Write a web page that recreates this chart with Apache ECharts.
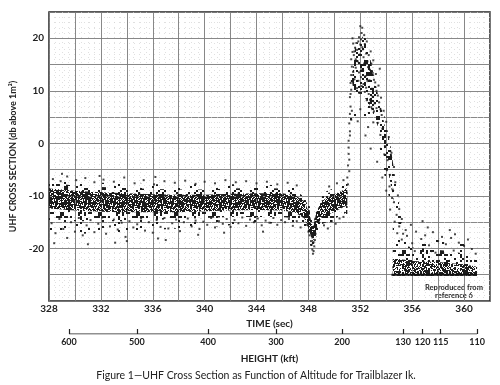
<!DOCTYPE html>
<html><head><meta charset="utf-8">
<script src="https://cdn.jsdelivr.net/npm/echarts@6/dist/echarts.min.js"></script>
<style>html,body{margin:0;padding:0;background:#fff}#c{width:500px;height:385px}</style>
</head><body><div id="c"></div>
<script>
// ---- tick labels ----
const heightLabels = [600, 500, 400, 300, 200, 130, 120, 115, 110];
const heightTimes  = [329.54, 334.78, 340.26, 345.5, 350.6, 355.3, 356.8, 358.2, 361.0];

// ---- baseline noise band (time, dB) ----
const baseT    = [328, 329, 330, 332, 334, 336, 338, 340, 342, 344, 346, 347, 347.7, 348.1, 348.35, 348.6, 349.0, 349.5, 350, 350.5, 351.0];
const outerHi  = [-6.8, -7.0, -7.2, -7.5, -7.6, -7.8, -7.8, -7.8, -7.8, -7.8, -8.0, -8.3, -9.5, -12, -15, -12.5, -9.5, -9.0, -8.5, -7.8, -7.0];
const outerLo  = [-17.5, -17.5, -17.3, -17, -16.8, -16.5, -16.2, -16.0, -15.6, -15.3, -15.2, -15.5, -16.5, -19, -21.5, -19, -16.5, -16, -15.5, -15, -14];
const midHi    = [-7.6, -7.8, -8.0, -8.3, -8.5, -8.7, -8.8, -8.8, -8.6, -8.5, -8.6, -9.0, -10.2, -12.8, -15.5, -12.8, -10.0, -9.5, -9.0, -8.3, -7.6];
const midLo    = [-14.8, -14.8, -14.8, -14.8, -14.8, -14.6, -14.4, -14.2, -14.0, -14.0, -14.0, -14.3, -15.5, -18, -20.5, -17.8, -15.4, -14.9, -14.3, -13.8, -13.0];
const coreHi   = [-8.6, -8.8, -9.0, -9.3, -9.5, -9.7, -9.8, -9.8, -9.6, -9.5, -9.5, -9.9, -11, -13.6, -16.2, -13.2, -10.9, -10.3, -9.7, -9.1, -8.5];
const coreLo   = [-12.4, -12.6, -12.8, -13.0, -13.1, -13.1, -13.1, -12.9, -12.8, -12.7, -12.8, -13.2, -14.3, -16.8, -19, -16.3, -14.1, -13.6, -13.0, -12.4, -11.8];

// ---- peak outline (closed) ----
const peakT = [351.15, 351.3, 351.5, 351.8, 352.05, 352.35, 352.7, 353.0, 353.3, 353.7, 354.1, 354.4, 354.7, 354.95, 355.2, 355.5, 354.9, 354.5, 354.1, 353.7, 353.2, 352.7, 352.2, 351.7, 351.35];
const peakV = [3, 14, 18.5, 20.5, 21.5, 20.5, 18, 15, 11.5, 7, 2.5, -2, -7, -12, -16, -19, -18, -13.5, -9, -4, 0.5, 3.5, 5, 5, 3];
const peakCoreT = [351.35, 351.6, 351.9, 352.1, 352.4, 352.7, 352.95, 353.3, 353.7, 354.0, 353.6, 353.1, 352.6, 352.0, 351.5];
const peakCoreV = [12, 18, 20, 20.5, 19.5, 17, 14, 10, 5.5, 2, 1.5, 5, 8, 9.5, 9.5];
const edgeT = [353.9, 354.3, 354.6, 354.9, 355.2, 355.0, 354.6, 354.2, 353.8, 353.5];
const edgeV = [4, 0, -5, -10, -15, -16, -11, -6, -1, 2];

// ---- post-peak floor ----
const floorT      = [354.5, 355.0, 355.5, 356, 357, 358, 359, 360, 361];
const floorOutHi  = [-16, -16.5, -16.5, -17, -17.2, -17.5, -17.8, -18.5, -20.5];
const floorMidHi  = [-19, -19.2, -19.5, -19.8, -20, -20.3, -20.5, -21, -22];
const floorCoreHi = [-22, -22, -22.2, -22.4, -22.5, -22.6, -22.8, -23, -23.5];
const floorLo     = [-25.2, -25.2, -25.2, -25.2, -25.2, -25.2, -25.2, -25.2, -25.2];
const floorLine   = [[354.4, -25.0], [361.0, -25.0]];

// ---- scattered individual returns ----
const upperFringe = [[328.3,-6.8],[328.9,-7.2],[329.4,-6.3],[330.1,-7.0],[330.8,-6.6],[331.5,-7.4],[332.2,-6.9],[333.0,-7.3],[333.8,-6.5],[334.6,-7.6],[335.3,-7.0],[336.1,-7.8],[336.9,-7.2],[337.7,-7.5],[338.5,-7.1],[339.3,-7.7],[340.0,-7.3],[340.8,-7.6],[341.6,-7.0],[342.4,-7.4],[343.2,-7.2],[344.0,-7.6],[344.8,-7.3],[345.6,-7.8],[346.4,-7.5],[347.1,-8.0],[349.6,-8.2],[350.2,-7.6],[350.7,-7.0],[329.0,-5.8],[331.9,-6.2],[336.2,-6.4]];
const lowerFringe = [[328.2,-15.2],[328.5,-17.1],[328.8,-14.4],[329.1,-16.3],[329.4,-18.0],[329.7,-15.0],[330.0,-16.8],[330.3,-14.2],[330.6,-17.5],[330.9,-15.6],[331.2,-14.6],[331.5,-16.9],[331.8,-15.3],[332.1,-14.1],[332.4,-17.2],[332.7,-15.8],[333.0,-14.5],[333.3,-16.4],[333.6,-15.1],[333.9,-17.8],[334.2,-14.8],[334.5,-16.0],[334.8,-15.4],[335.1,-14.3],[335.4,-16.6],[335.7,-15.0],[336.0,-17.0],[336.3,-14.6],[336.6,-15.9],[336.9,-14.2],[337.2,-16.2],[337.5,-15.2],[337.8,-14.5],[338.1,-16.7],[338.4,-15.0],[338.7,-14.3],[339.0,-15.8],[339.3,-14.7],[339.6,-16.3],[339.9,-14.9],[340.2,-15.5],[340.5,-14.2],[340.8,-16.0],[341.1,-14.8],[341.4,-15.3],[341.7,-14.4],[342.0,-15.9],[342.3,-14.6],[342.6,-15.2],[342.9,-14.1],[343.2,-15.7],[343.5,-14.5],[343.8,-15.0],[344.1,-14.3],[344.4,-15.6],[344.7,-14.7],[345.0,-15.1],[345.3,-14.2],[345.6,-15.5],[345.9,-14.6],[346.2,-15.0],[346.5,-14.4],[346.8,-15.7],[347.1,-14.8],[347.4,-16.0],[349.2,-15.6],[349.5,-16.2],[349.8,-14.8],[350.1,-15.3],[350.4,-14.3],[350.7,-14.0],[328.4,-19.0],[331.0,-19.2],[334.0,-18.6],[336.4,-18.1],[333.1,-18.9],[339.5,-17.4],[341.5,-17.0],[344.5,-16.8],[337.0,-18.4]];
const dipPts = [[347.9,-15.5],[348.0,-16.8],[348.1,-17.5],[348.2,-18.6],[348.25,-19.3],[348.3,-20.2],[348.35,-21.0],[348.4,-20.5],[348.45,-19.6],[348.5,-18.4],[348.55,-17.2],[348.6,-16.0],[348.3,-17.9],[348.4,-18.8],[348.2,-16.4],[348.5,-15.8],[348.7,-14.8]];
const columnPts = [[351.0,-6.5],[351.05,-4.2],[351.1,-2.0],[351.15,-5.3],[351.1,0.5],[351.2,2.3],[351.15,3.8],[351.2,5.6],[351.25,7.0],[351.2,8.8],[351.3,10.2],[351.25,11.5],[351.3,13.0],[351.35,14.6],[351.3,16.0],[351.4,17.4],[351.1,-0.8],[351.2,1.5],[351.3,4.5],[351.35,6.2],[351.05,-7.8],[351.15,-3.1],[351.25,9.4]];
const peakPts = [[352.0,22.3],[352.1,21.0],[351.9,20.2],[352.3,20.6],[351.7,19.1],[352.5,19.4],[351.6,18.2],[352.8,17.5],[351.5,16.8],[353.0,15.8],[352.2,17.9],[351.8,15.6],[352.6,14.5],[353.2,13.2],[352.4,12.8],[351.9,13.5],[353.4,11.0],[352.9,10.4],[352.1,10.9],[353.6,8.7],[353.1,7.6],[352.5,8.2],[353.8,6.2],[353.4,5.0],[354.0,4.1],[353.7,2.8],[354.2,1.2],[353.9,-0.5],[354.4,-1.8],[354.1,-3.2],[354.6,-4.5],[354.3,-6.0],[354.7,-7.4],[354.5,-8.8],[354.9,-9.9],[354.6,-11.2],[355.0,-12.5],[354.8,-13.6],[355.2,-14.4],[355.0,-15.8],[355.5,-16.5],[355.3,-17.2],[353.0,4.0],[352.6,3.1],[352.0,6.5],[351.8,4.2],[352.4,1.5],[352.8,-1.0],[353.3,-3.5],[353.7,-6.5],[354.0,-9.0],[354.3,-12.6],[351.6,11.0],[352.3,15.2],[352.7,12.0],[353.5,14.2],[352.0,18.8],[352.15,22.0],[351.4,20.0]];
const peakPts2 = [[351.45,19.0],[351.55,17.5],[351.65,16.0],[351.75,17.8],[351.85,19.4],[351.95,16.9],[352.05,19.8],[352.15,18.3],[352.25,16.4],[352.35,18.9],[352.45,17.1],[352.55,15.6],[352.65,16.8],[352.75,14.0],[352.85,15.2],[352.95,13.4],[353.05,12.1],[353.15,11.6],[353.25,10.0],[353.35,9.1],[353.45,7.8],[353.55,6.5],[353.65,5.4],[351.45,13.6],[351.55,12.2],[351.65,14.4],[351.75,10.5],[351.85,11.9],[351.95,9.6],[352.05,12.6],[352.15,14.1],[352.25,11.3],[352.35,9.8],[352.45,10.6],[352.55,11.9],[352.65,9.4],[352.75,8.3],[352.85,6.9],[352.95,8.9],[353.05,6.1],[353.25,6.7],[353.35,3.9],[353.55,1.6],[353.85,-2.1],[354.05,-5.1],[354.25,-8.2],[354.45,-10.4],[354.65,-14.9],[354.85,-17.1]];
const floorPts = [[355.2,-18.3],[355.6,-17.6],[356.0,-19.0],[356.3,-16.8],[356.7,-18.2],[357.0,-17.5],[357.3,-19.4],[357.6,-16.9],[358.0,-18.6],[358.3,-17.8],[358.6,-19.2],[359.0,-18.0],[359.3,-17.3],[359.6,-18.9],[360.0,-19.5],[360.3,-18.3],[360.6,-20.1],[360.9,-21.0],[356.2,-20.5],[357.8,-20.8],[359.2,-20.4],[355.9,-15.5],[357.2,-16.0],[358.9,-16.5],[356.8,-14.8]];

// ---- stipple textures: fixed hashed pixel layouts, density = share of dark cells ----
function cellHash(x, y) {
  let h = (Math.imul(x + 1, 374761393) + Math.imul(y + 7, 668265263)) | 0;
  h = Math.imul(h ^ (h >>> 13), 1274126177);
  h ^= h >>> 16;
  return (h >>> 0) % 1000;
}
function stipple(cells, cell, density) {
  const size = cells * cell;
  const c = document.createElement('canvas'); c.width = c.height = size;
  const g = c.getContext('2d');
  g.fillStyle = '#1c1c1c';
  for (let y = 0; y < cells; y++) for (let x = 0; x < cells; x++) {
    if (cellHash(x, y) < density * 1000) g.fillRect(x * cell, y * cell, cell, cell);
  }
  return { image: c, repeat: 'repeat' };
}
const coreFill  = stipple(29, 1, 0.70);
const midFill   = stipple(19, 2, 0.22);
const lightFill = stipple(19, 2, 0.07);
const peakFill  = stipple(19, 2, 0.30);
const floorFill = stipple(29, 1, 0.55);

function band(ts, lo, hi, fill, z) {
  return { type: 'custom', xAxisIndex: 0, yAxisIndex: 0, silent: true, z: z,
    data: [[ts[0], hi[0]]],
    renderItem: function (params, api) {
      const pts = [];
      for (let i = 0; i < ts.length; i++) pts.push(api.coord([ts[i], hi[i]]));
      for (let i = ts.length - 1; i >= 0; i--) pts.push(api.coord([ts[i], lo[i]]));
      return { type: 'polygon', shape: { points: pts }, style: { fill: fill, stroke: null } };
    } };
}
function poly(ts, vs, fill, z) {
  return { type: 'custom', xAxisIndex: 0, yAxisIndex: 0, silent: true, z: z,
    data: [[ts[0], vs[0]]],
    renderItem: function (params, api) {
      const pts = ts.map((t, i) => api.coord([t, vs[i]]));
      return { type: 'polygon', shape: { points: pts }, style: { fill: fill, stroke: null } };
    } };
}
function dots(d) {
  return { type: 'scatter', xAxisIndex: 0, yAxisIndex: 0, data: d, symbol: 'rect', symbolSize: 2,
    itemStyle: { color: '#1a1a1a' }, silent: true, z: 5 };
}

const FONT = 'Lato';
const txt = { color: '#222', fontFamily: FONT, fontWeight: 'bold', fontSize: 10 };
const numTxt = { color: '#222', fontFamily: FONT, fontWeight: 'bold', fontSize: 10 };
const hTxt = { color: '#222', fontFamily: FONT, fontWeight: 'bold', fontSize: 9 };

const chart = echarts.init(document.getElementById('c'), null, { renderer: 'canvas' });
chart.setOption({
  animation: false,
  backgroundColor: '#fff',
  grid: [
    { left: 49, right: 10, top: 12, bottom: 84, show: true, borderColor: '#222', borderWidth: 1.5, backgroundColor: 'transparent' },
    { left: 49, right: 10, top: 333, height: 1 }
  ],
  xAxis: [
    { type: 'value', gridIndex: 0, min: 328, max: 362, interval: 2,
      axisLine: { show: false }, axisTick: { show: false },
      axisLabel: Object.assign({ margin: 3, formatter: v => (v % 4 === 0 && v < 362) ? String(v) : '' }, numTxt),
      splitLine: { show: true, lineStyle: { color: '#7a7a7a', width: 0.9 } },
      minorTick: { show: false, splitNumber: 4 },
      minorSplitLine: { show: true, lineStyle: { color: '#d2d2d2', width: 0.7, type: [1, 4] } },
      name: 'TIME (sec)', nameLocation: 'middle', nameGap: 12, nameTextStyle: txt },
    { type: 'value', gridIndex: 1, min: 328, max: 362,
      axisLine: { show: false },
      axisTick: { show: true, inside: true, length: 5, customValues: heightTimes, lineStyle: { color: '#222', width: 1.2 } },
      axisLabel: Object.assign({ margin: 4, customValues: heightTimes,
        formatter: v => { let k = 0; heightTimes.forEach((h, i) => { if (Math.abs(h - v) < Math.abs(heightTimes[k] - v)) k = i; }); return String(heightLabels[k]); } }, hTxt),
      splitLine: { show: false },
      name: 'HEIGHT (kft)', nameLocation: 'middle', nameGap: 20, nameTextStyle: txt }
  ],
  yAxis: [
    { type: 'value', gridIndex: 0, min: -30, max: 25, interval: 5,
      axisLine: { show: false }, axisTick: { show: false },
      axisLabel: Object.assign({ margin: 5, formatter: v => (v % 10 === 0 && v > -30) ? String(v) : '' }, numTxt),
      splitLine: { show: true, lineStyle: { color: '#7a7a7a', width: 0.9 } },
      minorTick: { show: false, splitNumber: 5 },
      minorSplitLine: { show: true, lineStyle: { color: '#d2d2d2', width: 0.7, type: [1, 4] } },
      name: 'UHF CROSS SECTION (db above 1m²)', nameLocation: 'middle', nameGap: 12, nameTextStyle: Object.assign({}, txt, { fontSize: 9 }) },
    { type: 'value', gridIndex: 1, min: 0, max: 1, show: false }
  ],
  graphic: [
    { type: 'text', x: 256, y: 370, style: { text: 'Figure 1—UHF Cross Section as Function of Altitude for Trailblazer Ik.', fill: '#222', font: '10.5px ' + FONT, align: 'center' } },
    { type: 'text', x: 454, y: 283, style: { text: 'Reproduced from\nreference 6', fill: '#222', font: 'bold 7.5px ' + FONT, align: 'center', lineHeight: 8.5 } }
  ],
  series: [
    band(baseT, outerLo, outerHi, lightFill, 2),
    band(baseT, midLo, midHi, midFill, 3),
    band(baseT, coreLo, coreHi, coreFill, 4),
    poly(peakT, peakV, lightFill, 2),
    poly(peakCoreT, peakCoreV, peakFill, 3),
    poly(edgeT, edgeV, midFill, 3),
    band(floorT, floorLo, floorOutHi, lightFill, 2),
    band(floorT, floorLo, floorMidHi, midFill, 3),
    band(floorT, floorLo, floorCoreHi, floorFill, 4),
    { type: 'line', xAxisIndex: 0, yAxisIndex: 0, data: floorLine, symbol: 'none', silent: true, z: 4,
      lineStyle: { color: '#111', width: 2.2 } },
    dots(upperFringe), dots(lowerFringe), dots(dipPts), dots(columnPts), dots(peakPts), dots(peakPts2), dots(floorPts),
    { type: 'line', xAxisIndex: 1, yAxisIndex: 1, symbol: 'none', silent: true,
      data: [[heightTimes[0], 0], [heightTimes[heightTimes.length - 1], 0]],
      lineStyle: { color: '#222', width: 1.2 } }
  ]
});
</script>
</body></html>
